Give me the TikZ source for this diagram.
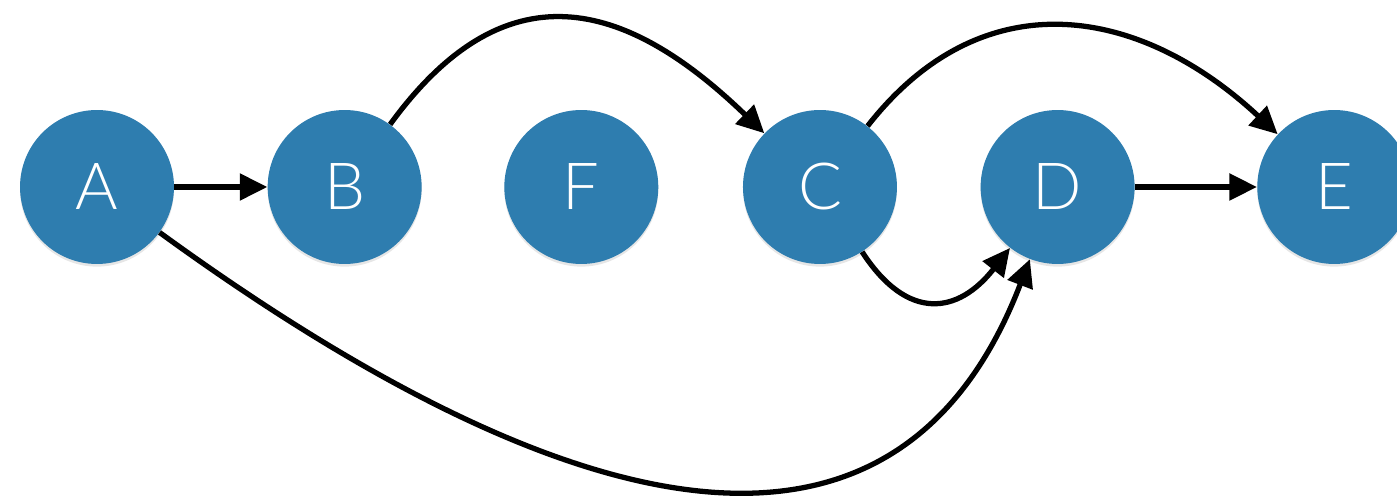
\documentclass[tikz,border=0pt]{standalone}
\usepackage{fontspec}
\setmainfont{Lato Light}
\usepackage{tikz}
\usetikzlibrary{arrows.meta,positioning,shadows}
\definecolor{steelblue}{HTML}{2E7DAF}

\begin{document}
\begin{tikzpicture}[
  x=0.02cm,y=-0.02cm,
  vertex/.style={circle,fill=steelblue,minimum size=3.08cm,inner sep=0pt,
    text=white,font=\fontsize{37}{40}\selectfont,
    drop shadow={opacity=0.2,shadow xshift=0pt,shadow yshift=-1.5pt}},
  link/.style={line width=3pt,-{Triangle[length=0.55cm,width=0.52cm]}}
]
\useasboundingbox (0,0) rectangle (1397,499);

\node[vertex] (A) at (97,187) {A};
\node[vertex] (B) [right=1.86cm of A] {B};
\node[vertex] (F) [right=1.64cm of B] {F};
\node[vertex] (C) [right=1.68cm of F] {C};
\node[vertex] (D) [right=1.66cm of C] {D};
\node[vertex] (E) [right=2.44cm of D] {E};

\draw[link] (A) -- (B);
\draw[link] (D) -- (E);
\draw[link] (B) to[out=54,in=136,looseness=1.33] (C);
\draw[link] (C) to[out=52,in=137,looseness=1.17] (E);
\draw[link] (C) to[out=-57,in=232,looseness=1.45] (D);
\draw[link] (A) to[out=-36,in=249,looseness=1.22] (D);
\end{tikzpicture}
\end{document}
